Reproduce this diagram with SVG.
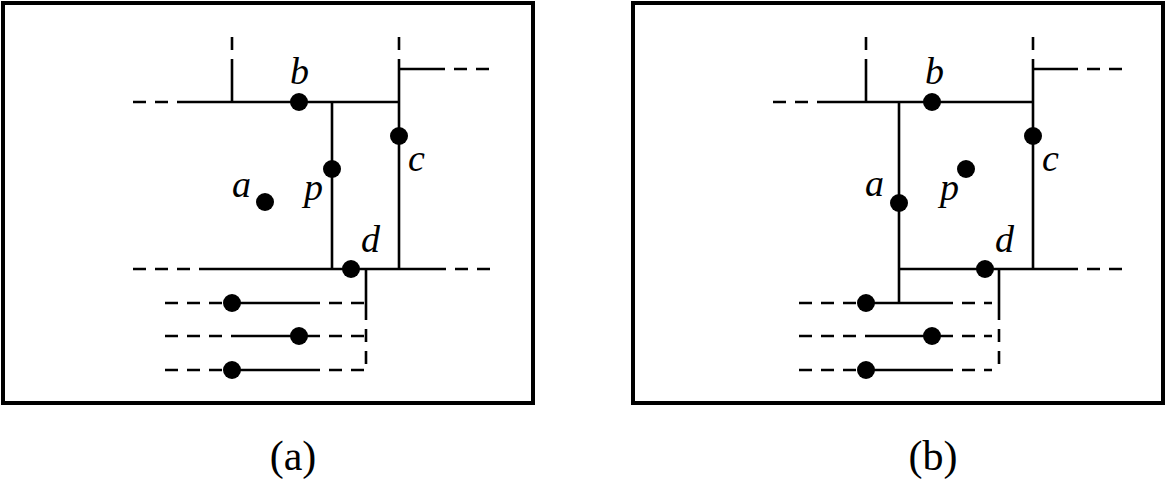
<svg xmlns="http://www.w3.org/2000/svg" width="1168" height="481" viewBox="0 0 1168 481">
<style>
.f{fill:none;stroke:#000;stroke-width:4}
.s{stroke:#000;stroke-width:2.6;fill:none}
.d{stroke:#000;stroke-width:2.6;fill:none;stroke-dasharray:13 9}
.pt{fill:#000}
.l{font-family:"Liberation Serif",serif;font-style:italic;font-size:38px}
.c{font-family:"Liberation Serif",serif;font-size:42px;text-anchor:middle}
</style>
<rect class="f" x="3" y="3" width="530" height="400"/>
<rect class="f" x="633" y="3" width="530" height="400"/>
<g id="connectors">
<path class="d" d="M133 102H190M232 37V62M399 37V62M432 69H498M133 269H200M433 269H498M366 307V370M165 303H232M307 303H365M165 336H232M307 336H365M165 370H232M307 370H365"/>
<path class="s" d="M190 102H399M232 62V102M399 62V269M399 69H432M332 102V269M200 269H433M366 269V307M232 303H307M232 336H300M232 370H307"/>
<path class="d" d="M773 102H830M866 37V62M1033 37V62M1065 69H1125M1065 269H1125M999 307V370M799 303H866M940 303H992M799 336H866M940 336H992M799 370H866M940 370H992"/>
<path class="s" d="M830 102H1033M866 62V102M1033 62V269M1033 69H1065M899 102V303M899 269H1065M999 269V307M866 303H940M866 336H932M866 370H940"/>
</g>
<g id="node-a-b"><circle class="pt" cx="299" cy="102" r="9"/><text class="l" x="290" y="84">b</text></g>
<g id="node-a-c"><circle class="pt" cx="399" cy="136" r="9"/><text class="l" x="408" y="171">c</text></g>
<g id="node-a-p"><circle class="pt" cx="332" cy="169" r="9"/><text class="l" x="304" y="200">p</text></g>
<g id="node-a-a"><circle class="pt" cx="265" cy="202" r="9"/><text class="l" x="232" y="197">a</text></g>
<g id="node-a-d"><circle class="pt" cx="351" cy="269" r="9"/><text class="l" x="361" y="252">d</text></g>
<g id="node-a-e"><circle class="pt" cx="232" cy="303" r="9"/></g>
<g id="node-a-f"><circle class="pt" cx="299" cy="336" r="9"/></g>
<g id="node-a-g"><circle class="pt" cx="232" cy="370" r="9"/></g>
<g id="node-b-b"><circle class="pt" cx="932" cy="102" r="9"/><text class="l" x="925" y="84">b</text></g>
<g id="node-b-c"><circle class="pt" cx="1033" cy="136" r="9"/><text class="l" x="1042" y="171">c</text></g>
<g id="node-b-p"><circle class="pt" cx="966" cy="169" r="9"/><text class="l" x="940" y="200">p</text></g>
<g id="node-b-a"><circle class="pt" cx="899" cy="203" r="9"/><text class="l" x="865" y="196">a</text></g>
<g id="node-b-d"><circle class="pt" cx="985" cy="269" r="9"/><text class="l" x="995" y="252">d</text></g>
<g id="node-b-e"><circle class="pt" cx="866" cy="303" r="9"/></g>
<g id="node-b-f"><circle class="pt" cx="932" cy="336" r="9"/></g>
<g id="node-b-g"><circle class="pt" cx="866" cy="370" r="9"/></g>
<text class="c" x="293" y="470">(a)</text>
<text class="c" x="933" y="470">(b)</text>
</svg>
